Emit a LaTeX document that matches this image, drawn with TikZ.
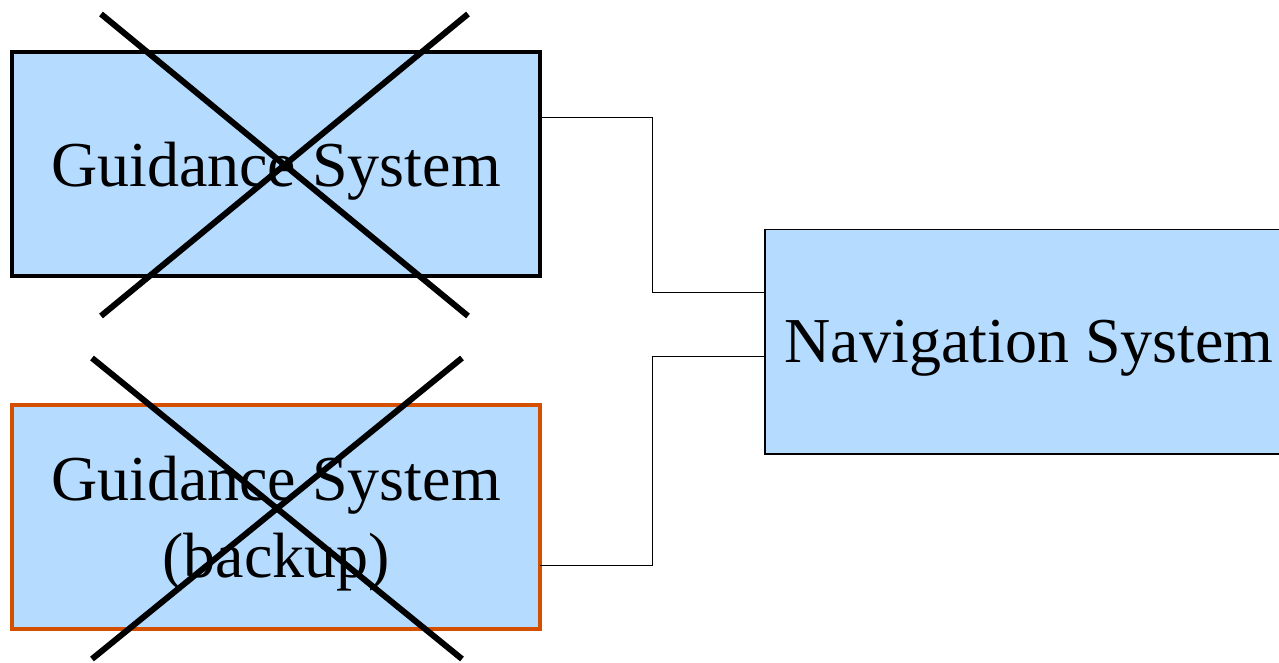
\documentclass[tikz,border=0pt]{standalone}
\usepackage{fontspec}
\setmainfont{Liberation Serif}
\usetikzlibrary{positioning, calc}
\definecolor{boxblue}{RGB}{181, 219, 255}
\definecolor{backuporange}{RGB}{212, 80, 0}

\begin{document}
\begin{tikzpicture}[x=1pt, y=1pt,
    sysbox/.style={draw, fill=boxblue, rectangle, outer sep=0pt, align=center,
      minimum width=528pt, minimum height=224pt, text depth=0pt,
      font=\fontsize{64}{77}\selectfont},
    wire/.style={line width=1pt},
    failed/.style={line width=6pt}]
  \useasboundingbox (0,0) rectangle (1279,662);

  % Systems
  \node[sysbox, line width=4pt] (guid) at (276,497.75) {Guidance System};
  \node[sysbox, line width=4pt, draw=backuporange] (backup) at (276,145.4) {Guidance System\\(backup)};
  \node[sysbox, line width=1.5pt] (nav) at (1029,320.25) {Navigation System};

  % Wiring
  \coordinate (mid) at ($(guid.east)!0.5!(nav.west)$);
  \coordinate (guidout) at ([yshift=47pt]guid.east);
  \coordinate (backupout) at ([yshift=-48.4pt]backup.east);
  \coordinate (navin1) at ([yshift=49pt]nav.west);
  \coordinate (navin2) at ([yshift=-15.25pt]nav.west);
  \draw[wire] (guidout) -| (mid |- navin1) -- (navin1);
  \draw[wire] (backupout) -| (mid |- navin2) -- (navin2);

  % Crossed out
  \draw[failed] (101,648) -- (468,346);
  \draw[failed] (468,648) -- (101,346);
  \draw[failed] (92,304) -- (462,3);
  \draw[failed] (462,304) -- (92,3);
\end{tikzpicture}
\end{document}
